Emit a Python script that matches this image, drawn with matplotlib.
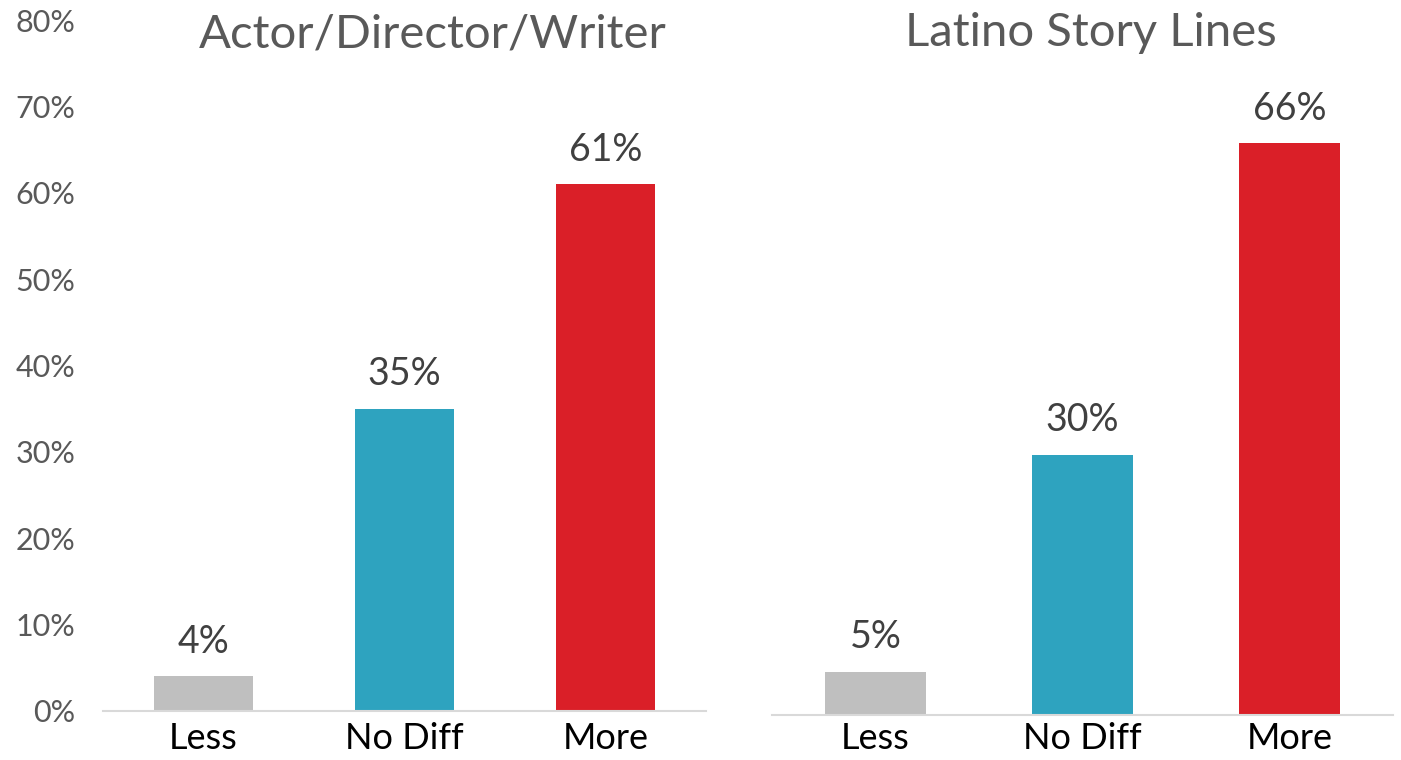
import matplotlib.pyplot as plt

# data
categories = ['Less', 'No Diff', 'More']
actor_vals = [4, 35, 61]
story_vals = [5, 30, 66]
titles = ['Actor/Director/Writer', 'Latino Story Lines']
bar_colors = ['#BFBFBF', '#2EA3BF', '#DA1F28']
yticks = [0, 10, 20, 30, 40, 50, 60, 70, 80]

plt.rcParams['font.family'] = ['Lato', 'DejaVu Sans']

fig = plt.figure(figsize=(14.01, 7.6), dpi=100)
ax1 = fig.add_axes([0.0735, 0.0645, 0.4304, 0.909])
ax2 = fig.add_axes([0.551, 0.0592, 0.4433, 0.912])

for ax, vals, xpad in [(ax1, actor_vals, 8), (ax2, story_vals, 5)]:
    x = range(len(categories))
    ax.bar(x, vals, width=0.49, color=bar_colors)
    for xi, v in zip(x, vals):
        ax.annotate(f'{v}%', (xi, v), xytext=(0, 12), textcoords='offset points',
                    ha='center', va='bottom', fontsize=27, color='#404040')
    ax.set_xlim(-0.5, 2.5)
    ax.set_ylim(0, 80)
    ax.set_xticks(list(x))
    ax.set_xticklabels(categories, fontsize=26, color='black')
    ax.tick_params(axis='x', length=0, pad=xpad)
    for s in ['top', 'right', 'left']:
        ax.spines[s].set_visible(False)
    ax.spines['bottom'].set_color('#D9D9D9')
    ax.spines['bottom'].set_linewidth(1.5)

ax1.set_yticks(yticks)
ax1.set_yticklabels([f'{t}%' for t in yticks], fontsize=22, color='#595959')
ax1.tick_params(axis='y', length=0, pad=20)
ax2.set_yticks([])

fig.text(433/1401, 1 - 35/760, titles[0], ha='center', va='center', fontsize=34, color='#595959')
fig.text(1091/1401, 1 - 33/760, titles[1], ha='center', va='center', fontsize=34, color='#595959')

fig.savefig('out.png', dpi=100)
